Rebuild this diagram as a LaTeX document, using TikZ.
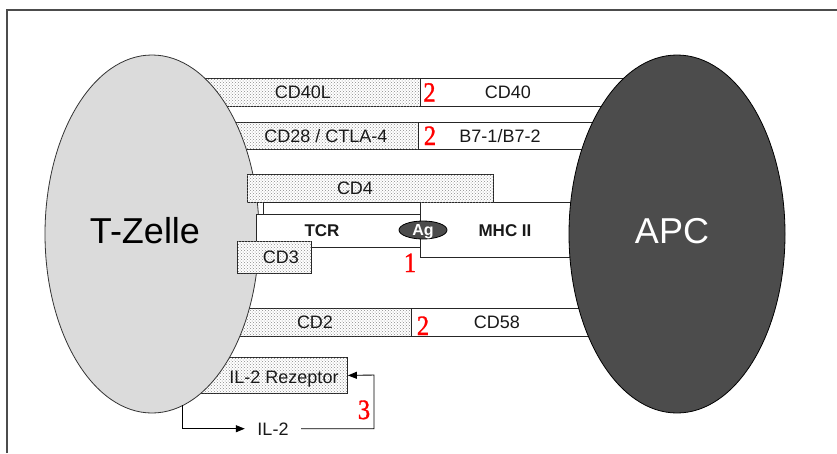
\documentclass[tikz,border=0pt]{standalone}
\usepackage{fontspec}
\setmainfont{Liberation Sans}
\newfontfamily\redserif[FakeBold=1.2]{Liberation Serif}
\usetikzlibrary{shapes.geometric,patterns,arrows.meta}
\begin{document}
\begin{tikzpicture}[x=1pt,y=-1pt,
 box/.style={draw=black!85, line width=0.9pt, fill=white, inner sep=0pt, anchor=north west},
 dotbox/.style={box, fill=white, postaction={pattern=crosshatch dots, pattern color=black!45}},
 lbl/.style={anchor=base, inner sep=0pt, font=\fontsize{18}{20}\selectfont, text=black!90},
 blbl/.style={lbl, font=\fontsize{17}{20}\selectfont\bfseries},
 num/.style={anchor=base, inner sep=0pt, text=red, xscale=0.88, font=\fontsize{28}{28}\selectfont\redserif},
 big/.style={anchor=base, inner sep=0pt, font=\fontsize{36}{40}\selectfont},
 conn/.style={draw=black, line width=0.9pt},
 tip/.style={-{Triangle[length=9pt,width=7pt]}},
 cell/.style={ellipse, line width=0.8pt, minimum width=214pt, minimum height=358pt, inner sep=0pt}
]
\useasboundingbox (0,0) rectangle (837,453);
% frame
\draw[black!70, line width=1.5pt] (7,453) -- (7,10) -- (837,10);

% bars behind the cells
\node[dotbox, minimum width=260pt, minimum height=28pt] (cd40lb) at (160,78) {};
\node[box, minimum width=270pt, minimum height=28pt] (cd40b) at (420,78) {};
\node[dotbox, minimum width=258pt, minimum height=27pt] (cd28b) at (160,122) {};
\node[box, minimum width=272pt, minimum height=27pt] (b7b) at (418,122) {};
\node[box, minimum width=270pt, minimum height=55pt] (mhcb) at (420,202) {};
\node[dotbox, minimum width=251pt, minimum height=28pt] (cd2b) at (160,308) {};
\node[box, minimum width=279pt, minimum height=28pt] (cd58b) at (411,308) {};
\node[dotbox, minimum width=187pt, minimum height=36pt] (ilr) at (160,357) {};

% cells
\node[cell, draw=black!80, fill=black!14] (tz) at (152,234) {};
\node[cell, draw=black, fill=black!70, minimum width=216pt] (apc) at (677,234) {};

% boxes in front
\node[dotbox, minimum width=246pt, minimum height=28pt] (cd4b) at (247,174) {};
\node[box, minimum width=157pt, minimum height=12pt] (strip) at (263,202) {};
\node[box, minimum width=164pt, minimum height=33pt] (tcrb) at (256,214) {};
\node[dotbox, minimum width=74pt, minimum height=32pt] (cd3b) at (237,241) {};
\node[ellipse, draw=black, fill=black!70, minimum width=48pt, minimum height=18pt, inner sep=0pt, line width=0.8pt] (ag) at (423,230) {};

% labels
\node[big] (tzl) at (145,243) {T-Zelle};
\node[big, text=white] (apcl) at (672,243) {APC};
\node[lbl] (cd40l) at (303,98.5) {CD40L};
\node[lbl] (cd40) at (508,98.5) {CD40};
\node[lbl] (cd28) at (326,142) {CD28 / CTLA-4};
\node[lbl] (b7) at (500,142) {B7-1/B7-2};
\node[lbl] (cd4) at (355,194.5) {CD4};
\node[blbl] (tcr) at (322,236) {TCR};
\node[blbl] (mhc) at (505,236) {MHC II};
\node[lbl, font=\fontsize{16}{18}\selectfont\bfseries, text=white] (agl) at (423,235.7) {Ag};
\node[lbl] (cd3) at (281,263.5) {CD3};
\node[lbl] (cd2) at (315,328.5) {CD2};
\node[lbl] (cd58) at (497,328.5) {CD58};
\node[lbl] (ilrl) at (284,383.5) {IL-2 Rezeptor};
\node[lbl, inner xsep=12.5pt] (il2) at (273,435) {IL-2};

% red numbers
\node[num] (n1) at (429.5,101.7) {2};
\node[num] (n2) at (430,145) {2};
\node[num] (n3) at (410,272) {1};
\node[num] (n4) at (423,335) {2};
\node[num] (n5) at (364,419) {3};

% connectors
\coordinate (ilsrc) at (182,405);
\coordinate (ilturn) at (374,375);
\draw[conn, tip] (ilsrc) |- (il2.west);
\draw[conn, tip] (il2.east) -| (ilturn) -- (ilr.east);
\end{tikzpicture}
\end{document}
